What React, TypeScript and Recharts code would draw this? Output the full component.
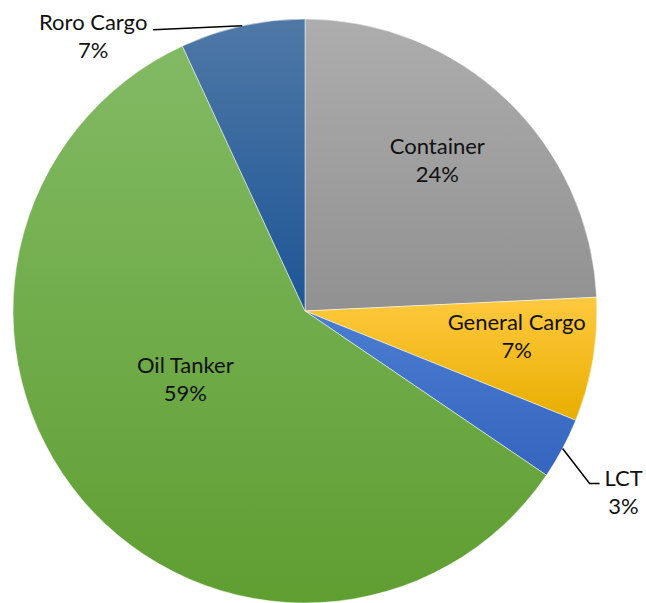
import { PieChart, Pie, Cell } from "recharts";

const categories = ["Container", "General Cargo", "LCT", "Oil Tanker", "Roro Cargo"];
const shares = [24.25, 6.86, 3.4, 58.6, 6.9];
const topColors = ["#adadad", "#ffc93f", "#4a7dd2", "#82ba64", "#4f78a6"];
const bottomColors = ["#919191", "#e8ae00", "#3565be", "#5f9e31", "#1c5596"];

const data = categories.map((name, i) => ({ name, value: shares[i] }));

const RADIAN = Math.PI / 180;

// inside labels: radius factor + angle nudge; outside: leader line offsets from arc midpoint
const inside: Record<string, { rf: number; shift: number }> = {
  Container: { rf: 0.69, shift: 2.6 },
  "General Cargo": { rf: 0.73, shift: 3 },
  "Oil Tanker": { rf: 0.47, shift: -11 },
};
const outside: Record<string, { pts: number[][]; text: number[] }> = {
  "Roro Cargo": { pts: [[-89, 4]], text: [-149, -4] },
  LCT: { pts: [[27, 35], [37, 35]], text: [61, 29] },
};

const FONT = "Lato, 'Noto Sans', sans-serif";

function renderLabel(props: any) {
  const { cx, cy, midAngle, outerRadius, name, percent } = props;
  const pct = `${Math.round(percent * 100)}%`;
  const textProps = {
    fill: "#111",
    fontSize: 22,
    fontFamily: FONT,
    textAnchor: "middle" as const,
    dominantBaseline: "central" as const,
  };
  if (inside[name]) {
    const { rf, shift } = inside[name];
    const a = (midAngle + shift) * RADIAN;
    const x = cx + outerRadius * rf * Math.cos(-a);
    const y = cy + outerRadius * rf * Math.sin(-a);
    return (
      <g>
        <text x={x} y={y - 14} {...textProps}>{name}</text>
        <text x={x} y={y + 14} {...textProps}>{pct}</text>
      </g>
    );
  }
  const o = outside[name];
  if (!o) return null;
  const ax = cx + outerRadius * Math.cos(-midAngle * RADIAN);
  const ay = cy + outerRadius * Math.sin(-midAngle * RADIAN);
  const d = `M${ax},${ay}` + o.pts.map((p) => ` L${ax + p[0]},${ay + p[1]}`).join("");
  const tx = ax + o.text[0];
  const ty = ay + o.text[1];
  return (
    <g>
      <path d={d} stroke="#000" strokeWidth={1.5} fill="none" />
      <text x={tx} y={ty} {...textProps}>{name}</text>
      <text x={tx} y={ty + 28} {...textProps}>{pct}</text>
    </g>
  );
}

export default function App() {
  return (
    <div style={{ position: "absolute", left: 0, top: 0, background: "#fff" }}>
      <PieChart width={646} height={603} margin={{ top: 0, right: 0, bottom: 0, left: 0 }}>
        <defs>
          {categories.map((c, i) => (
            <linearGradient key={c} id={`grad${i}`} x1="0" y1="0" x2="0" y2="1">
              <stop offset="0%" stopColor={topColors[i]} />
              <stop offset="100%" stopColor={bottomColors[i]} />
            </linearGradient>
          ))}
        </defs>
        <Pie
          data={data}
          dataKey="value"
          nameKey="name"
          cx={305}
          cy={311}
          outerRadius={292}
          startAngle={90}
          endAngle={-270}
          stroke="#fff"
          strokeWidth={0.5}
          label={renderLabel}
          labelLine={false}
          isAnimationActive={false}
        >
          {data.map((d, i) => (
            <Cell key={d.name} fill={`url(#grad${i})`} />
          ))}
        </Pie>
      </PieChart>
    </div>
  );
}
